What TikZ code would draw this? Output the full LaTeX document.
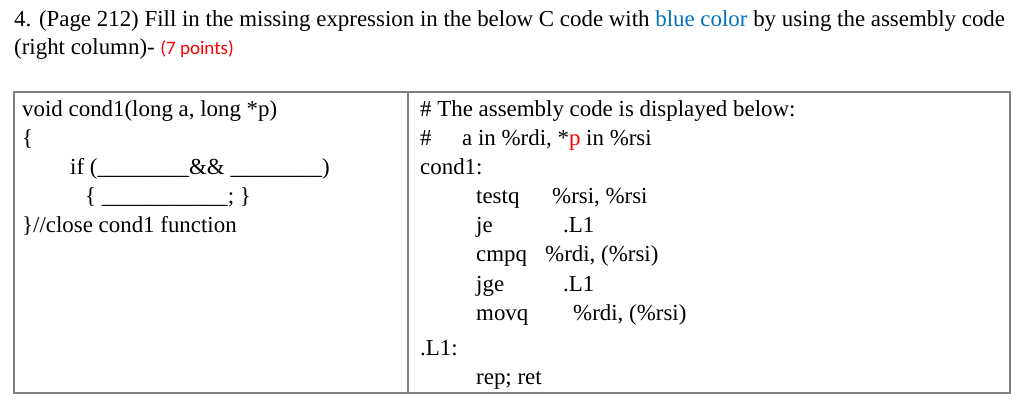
\documentclass[tikz,border=0pt]{standalone}
\usepackage{fontspec}
\setmainfont{Liberation Serif}
\newfontfamily\ptsfont{Carlito}
\definecolor{wordblue}{HTML}{0070C0}
\definecolor{ptred}{HTML}{FF0000}
\definecolor{gridgray}{HTML}{7F7F7F}
\begin{document}
\begin{tikzpicture}[x=1pt,y=-1pt,
  txt/.style={anchor=base west,inner sep=0pt,font=\fontsize{22.9}{26}\selectfont},
  cell/.style={draw=gridgray,line width=1.3pt}]
\useasboundingbox (0,0) rectangle (1024,411);
\node[txt] (t1) at (14,27) {4. (Page 212) Fill in the missing expression in the below C code with \textcolor{wordblue}{blue color} by using the assembly code};
\node[txt] (t2) at (14,55) {(right column)- {\ptsfont\fontsize{19}{22}\selectfont\textcolor{ptred}{(7 points)}}};
\draw[cell] (14,92) rectangle (1010,393);
\draw[cell] (408,92) -- (408,393);
% left column
\node[txt] (l1) at (22,117) {void cond1(long a, long *p)};
\node[txt] (l2) at (22,146) {\{};
\node[txt] (l3) at (70,175) {if (\_\_\_\_\_\_\_\_\&\& \_\_\_\_\_\_\_\_)};
\node[txt] (l4) at (85,204) {\{ \_\_\_\_\_\_\_\_\_\_\_; \}};
\node[txt] (l5) at (22,233) {\}//close cond1 function};
% right column
\node[txt] (r1) at (420,117) {\# The assembly code is displayed below:};
\node[txt] (r2a) at (420,146) {\#};
\node[txt] (r2) at (462,146) {a in \%rdi, *\textcolor{ptred}{p} in \%rsi};
\node[txt] (r3) at (420,175) {cond1:};
\node[txt] (r4a) at (476,204) {testq};
\node[txt] (r4b) at (552,204) {\%rsi, \%rsi};
\node[txt] (r5a) at (476,233) {je};
\node[txt] (r5b) at (563,233) {.L1};
\node[txt] (r6a) at (476,262) {cmpq};
\node[txt] (r6b) at (545,262) {\%rdi, (\%rsi)};
\node[txt] (r7a) at (476,291) {jge};
\node[txt] (r7b) at (563,291) {.L1};
\node[txt] (r8a) at (476,320) {movq};
\node[txt] (r8b) at (573,320) {\%rdi, (\%rsi)};
\node[txt] (r9) at (420,355) {.L1:};
\node[txt] (r10) at (476,384) {rep; ret};
\end{tikzpicture}
\end{document}
